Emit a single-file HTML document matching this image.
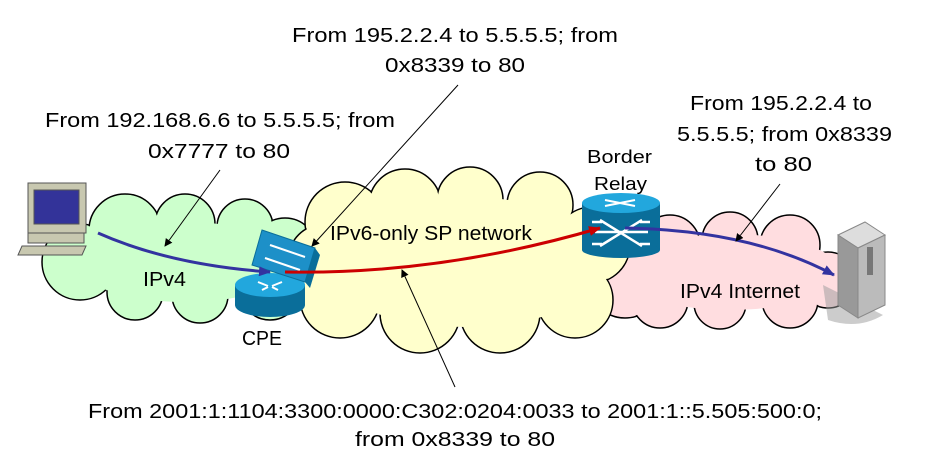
<!DOCTYPE html>
<html><head><meta charset="utf-8"><style>
html,body{margin:0;padding:0;background:#fff;width:946px;height:469px;overflow:hidden}
svg text{font-family:"Liberation Sans",sans-serif;fill:#000}
</style></head><body>
<svg width="946" height="469" viewBox="0 0 946 469" xmlns="http://www.w3.org/2000/svg">
<defs>
<marker id="ab" markerWidth="8" markerHeight="8" refX="7" refY="4" orient="auto" markerUnits="userSpaceOnUse"><path d="M0,0 L8,4 L0,8 z" fill="#000"/></marker>
<marker id="abl" markerWidth="12" markerHeight="10" refX="11" refY="5" orient="auto" markerUnits="userSpaceOnUse"><path d="M0,0 L12,5 L0,10 z" fill="#3333a0"/></marker>
<marker id="ar" markerWidth="12" markerHeight="10" refX="11" refY="5" orient="auto" markerUnits="userSpaceOnUse"><path d="M0,0 L12,5 L0,10 z" fill="#cc0000"/></marker>
</defs>
<!-- green cloud -->
<g stroke="#000" stroke-width="1.5">
<g fill="#ccffcc">
<circle cx="80" cy="262" r="38"/><circle cx="125" cy="230" r="36"/><circle cx="185" cy="224" r="30"/><circle cx="245" cy="227" r="28"/><circle cx="285" cy="250" r="32"/><circle cx="270" cy="290" r="30"/><circle cx="200" cy="295" r="28"/><circle cx="135" cy="292" r="28"/>
</g></g>
<g fill="#ccffcc"><circle cx="80" cy="262" r="37"/><circle cx="125" cy="230" r="35"/><circle cx="185" cy="224" r="29"/><circle cx="245" cy="227" r="27"/><circle cx="285" cy="250" r="31"/><circle cx="270" cy="290" r="29"/><circle cx="200" cy="295" r="27"/><circle cx="135" cy="292" r="27"/><ellipse cx="185" cy="262" rx="110" ry="40"/></g>
<!-- pink cloud -->
<g stroke="#000" stroke-width="1.5" fill="#ffdde0">
<circle cx="625" cy="282" r="36"/><circle cx="670" cy="245" r="30"/><circle cx="730" cy="240" r="28"/><circle cx="790" cy="245" r="30"/><circle cx="828" cy="280" r="28"/><circle cx="790" cy="300" r="28"/><circle cx="720" cy="303" r="26"/><circle cx="660" cy="300" r="28"/>
</g>
<g fill="#ffdde0"><circle cx="625" cy="282" r="35"/><circle cx="670" cy="245" r="29"/><circle cx="730" cy="240" r="27"/><circle cx="790" cy="245" r="29"/><circle cx="828" cy="280" r="27"/><circle cx="790" cy="300" r="27"/><circle cx="720" cy="303" r="25"/><circle cx="660" cy="300" r="27"/><ellipse cx="730" cy="272" rx="110" ry="38"/></g>
<!-- yellow cloud -->
<g stroke="#000" stroke-width="1.5" fill="#ffffcc">
<circle cx="345" cy="222" r="40"/><circle cx="405" cy="205" r="36"/><circle cx="470" cy="200" r="33"/><circle cx="540" cy="205" r="33"/><circle cx="592" cy="245" r="38"/><circle cx="575" cy="300" r="38"/><circle cx="500" cy="313" r="40"/><circle cx="420" cy="313" r="40"/><circle cx="340" cy="298" r="40"/><circle cx="322" cy="258" r="33"/>
</g>
<g fill="#ffffcc"><circle cx="345" cy="222" r="39"/><circle cx="405" cy="205" r="35"/><circle cx="470" cy="200" r="32"/><circle cx="540" cy="205" r="32"/><circle cx="592" cy="245" r="37"/><circle cx="575" cy="300" r="37"/><circle cx="500" cy="313" r="39"/><circle cx="420" cy="313" r="39"/><circle cx="340" cy="298" r="39"/><circle cx="322" cy="258" r="32"/><ellipse cx="465" cy="262" rx="145" ry="65"/></g>

<!-- PC -->
<g stroke="#555" stroke-width="1">
<rect x="28" y="183" width="58" height="50" fill="#c8c8b0"/>
<rect x="34" y="190" width="45" height="34" fill="#333399"/>
<rect x="28" y="233" width="56" height="10" fill="#c8c8b0"/>
<path d="M22,246 L86,246 L82,255 L18,255 z" fill="#c8c8b0"/>
</g>
<!-- server -->
<path d="M828,320 q30,10 55,-5 l-60,-30 z" fill="#999" opacity="0.5"/>
<path d="M838,235 L865,222 L885,235 L858,248 z" fill="#ddd" stroke="#888"/>
<path d="M858,248 L885,235 L885,305 L858,318 z" fill="#bbb" stroke="#888"/>
<path d="M838,235 L858,248 L858,318 L838,305 z" fill="#999" stroke="#888"/>
<rect x="867" y="247" width="6" height="28" fill="#777"/>

<!-- CPE router -->
<ellipse cx="270" cy="305" rx="35" ry="12" fill="#0a6e9a"/>
<rect x="235" y="285" width="70" height="20" fill="#0a6e9a"/>
<ellipse cx="270" cy="285" rx="35" ry="12" fill="#22a7dd"/>
<path d="M258,282 l10,4 M282,282 l-10,4 M262,290 l6,-3 M278,290 l-6,-3" stroke="#fff" stroke-width="2"/>
<!-- switch -->
<path d="M262,230 L315,248 L305,282 L252,265 z" fill="#1d90c8" stroke="#0a6e9a"/>
<path d="M315,248 L320,255 L310,288 L305,282 z" fill="#0a6e9a"/>
<path d="M270,245 L305,257 M265,258 L300,270" stroke="#fff" stroke-width="2"/>
<!-- border relay -->
<rect x="582" y="203" width="78" height="47" fill="#0a6e9a"/>
<ellipse cx="621" cy="250" rx="39" ry="8" fill="#0a6e9a"/>
<ellipse cx="621" cy="203" rx="39" ry="10" fill="#22a7dd"/>
<path d="M595,232 L648,232 M600,220 L642,246 M600,246 L642,220 M592,222 l10,0 M640,222 l10,0 M592,244 l10,0 M640,244 l10,0" stroke="#fff" stroke-width="2.5"/>
<path d="M605,200 l30,6 M605,206 l30,-6" stroke="#fff" stroke-width="2"/>

<!-- flows -->
<path d="M98,233 Q170,265 270,272" fill="none" stroke="#3333a0" stroke-width="3" marker-end="url(#abl)"/>
<path d="M285,272 Q440,275 600,228" fill="none" stroke="#cc0000" stroke-width="3" marker-end="url(#ar)"/>
<path d="M625,228 Q750,230 834,275" fill="none" stroke="#3333a0" stroke-width="3" marker-end="url(#abl)"/>

<!-- callout arrows -->
<g stroke="#000" stroke-width="1" marker-end="url(#ab)">
<line x1="220" y1="170" x2="165" y2="246"/>
<line x1="458" y1="85" x2="312" y2="246"/>
<line x1="455" y1="387" x2="402" y2="270"/>
<line x1="780" y1="184" x2="736" y2="241"/>
</g>

<!-- text -->
<g font-size="20">
<text x="292" y="42" textLength="326" lengthAdjust="spacingAndGlyphs">From 195.2.2.4 to 5.5.5.5; from</text>
<text x="385" y="72" textLength="140" lengthAdjust="spacingAndGlyphs">0x8339 to 80</text>
<text x="45" y="127" textLength="350" lengthAdjust="spacingAndGlyphs">From 192.168.6.6 to 5.5.5.5; from</text>
<text x="148" y="158" textLength="142" lengthAdjust="spacingAndGlyphs">0x7777 to 80</text>
<text x="690" y="110" textLength="182" lengthAdjust="spacingAndGlyphs">From 195.2.2.4 to</text>
<text x="677" y="141" textLength="215" lengthAdjust="spacingAndGlyphs">5.5.5.5; from 0x8339</text>
<text x="755" y="171" textLength="57" lengthAdjust="spacingAndGlyphs">to 80</text>
<text x="88" y="418" textLength="734" lengthAdjust="spacingAndGlyphs">From 2001:1:1104:3300:0000:C302:0204:0033 to 2001:1::5.505:500:0;</text>
<text x="355" y="446" textLength="200" lengthAdjust="spacingAndGlyphs">from 0x8339 to 80</text>
<text x="143" y="286" textLength="43" lengthAdjust="spacingAndGlyphs">IPv4</text>
<text x="330" y="240" textLength="202" lengthAdjust="spacingAndGlyphs">IPv6-only SP network</text>
<text x="242" y="345" textLength="40" lengthAdjust="spacingAndGlyphs">CPE</text>
<text x="680" y="298" textLength="120" lengthAdjust="spacingAndGlyphs">IPv4 Internet</text>
</g>
<g font-size="18">
<text x="587" y="163" textLength="65" lengthAdjust="spacingAndGlyphs">Border</text>
<text x="594" y="190" textLength="53" lengthAdjust="spacingAndGlyphs">Relay</text>
</g>
</svg>
</body></html>
